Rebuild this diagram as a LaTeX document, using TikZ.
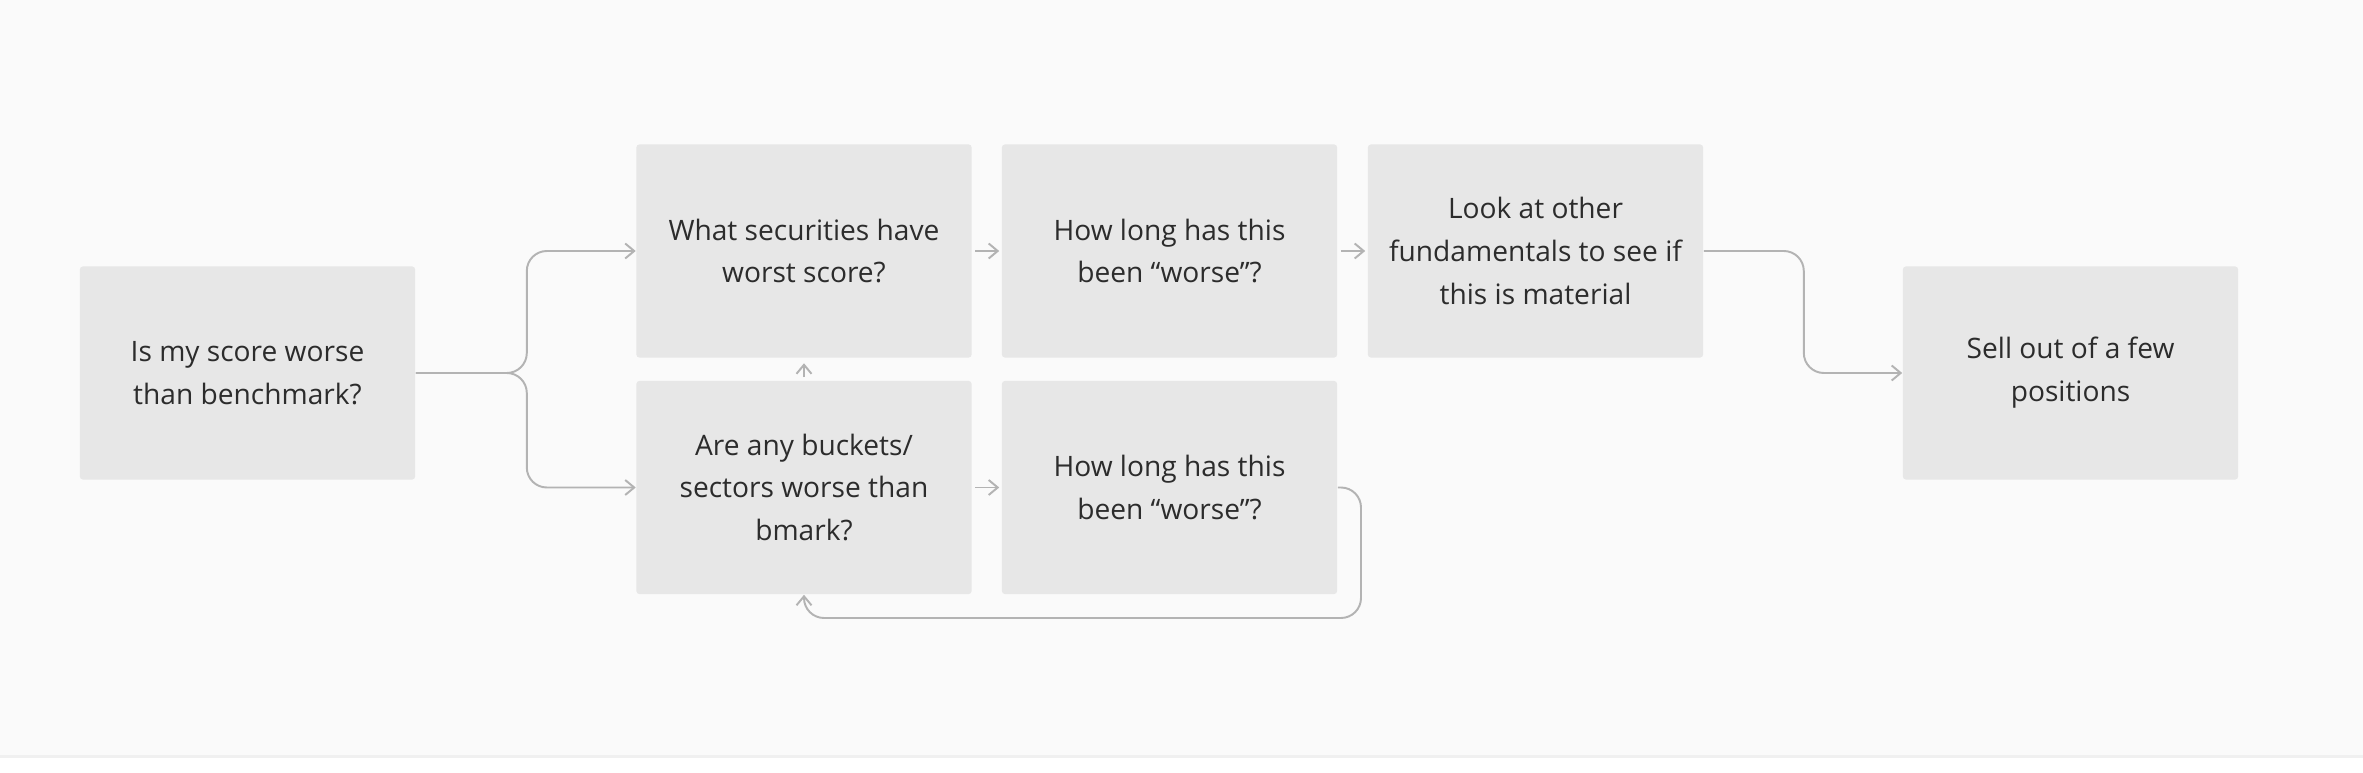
\documentclass[tikz,border=0pt]{standalone}
\usepackage{xcolor}
\usepackage{fontspec}
\setmainfont{Open Sans}
\usepackage{tikz}
\usetikzlibrary{arrows.meta}

\definecolor{pagebg}{HTML}{FAFAFA}
\definecolor{pageline}{HTML}{F0F0F0}
\definecolor{boxfill}{HTML}{E7E7E7}
\definecolor{boxtext}{HTML}{2C2C2C}
\definecolor{linkgray}{HTML}{B3B3B3}

\tikzset{
    stepbox/.style={fill=boxfill, rounded corners=0.03cm, minimum width=3.35cm,
        minimum height=2.13cm, text=boxtext, align=center, inner sep=0pt,
        font=\fontsize{8}{12.2}\selectfont},
    link/.style={draw=linkgray, line width=0.55pt,
        -{Straight Barb[length=0.09cm, width=0.15cm]}}
}

\begin{document}
\begin{tikzpicture}[x=0.01cm, y=-0.01cm]
    % page
    \fill[pagebg] (0,0) rectangle (2363,755);
    \fill[pageline] (0,755) rectangle (2363,758);
    \fill[white] (0,758) rectangle (2363,773);
    \useasboundingbox (0,0) rectangle (2363,773);

    % question boxes
    \node[stepbox] (score) at (247.5,373) {Is my score worse\\than benchmark?};
    \node[stepbox] (secs) at (804,251) {What securities have\\worst score?};
    \node[stepbox] (longtop) at (1169.5,251) {How long has this\\been “worse”?};
    \node[stepbox] (fund) at (1535.5,251) {Look at other\\fundamentals to see if\\this is material};
    \node[stepbox] (buckets) at (804,487.5) {Are any buckets/\\sectors worse than\\bmark?};
    \node[stepbox] (longbot) at (1169.5,487.5) {How long has this\\been “worse”?};
    \node[stepbox] (sell) at (2070.5,373) {Sell out of a few\\positions};

    % corner points of the loop
    \coordinate (loop) at (1361,618);

    % split from the first box
    \draw[link, rounded corners=0.2cm] (score.east) -- ++(111,0) |- (secs.west);
    \draw[link, rounded corners=0.2cm] (score.east) -- ++(111,0) |- (buckets.west);

    % short arrows between boxes
    \draw[link, shorten <=0.03cm, shorten >=0.02cm] (secs.east) -- (longtop.west);
    \draw[link, shorten <=0.03cm, shorten >=0.02cm] (longtop.east) -- (fund.west);
    \draw[link, shorten <=0.03cm, shorten >=0.02cm] (buckets.east) -- (longbot.west);
    \draw[link, shorten <=0.03cm, shorten >=0.05cm] (buckets.north) -- (secs.south);

    % on to selling
    \draw[link, rounded corners=0.2cm] (fund.east) -- ++(100,0) |- (sell.west);

    % back round to the buckets
    \draw[link, rounded corners=0.2cm] (longbot.east) -| (loop) -| (buckets.south);
\end{tikzpicture}
\end{document}
